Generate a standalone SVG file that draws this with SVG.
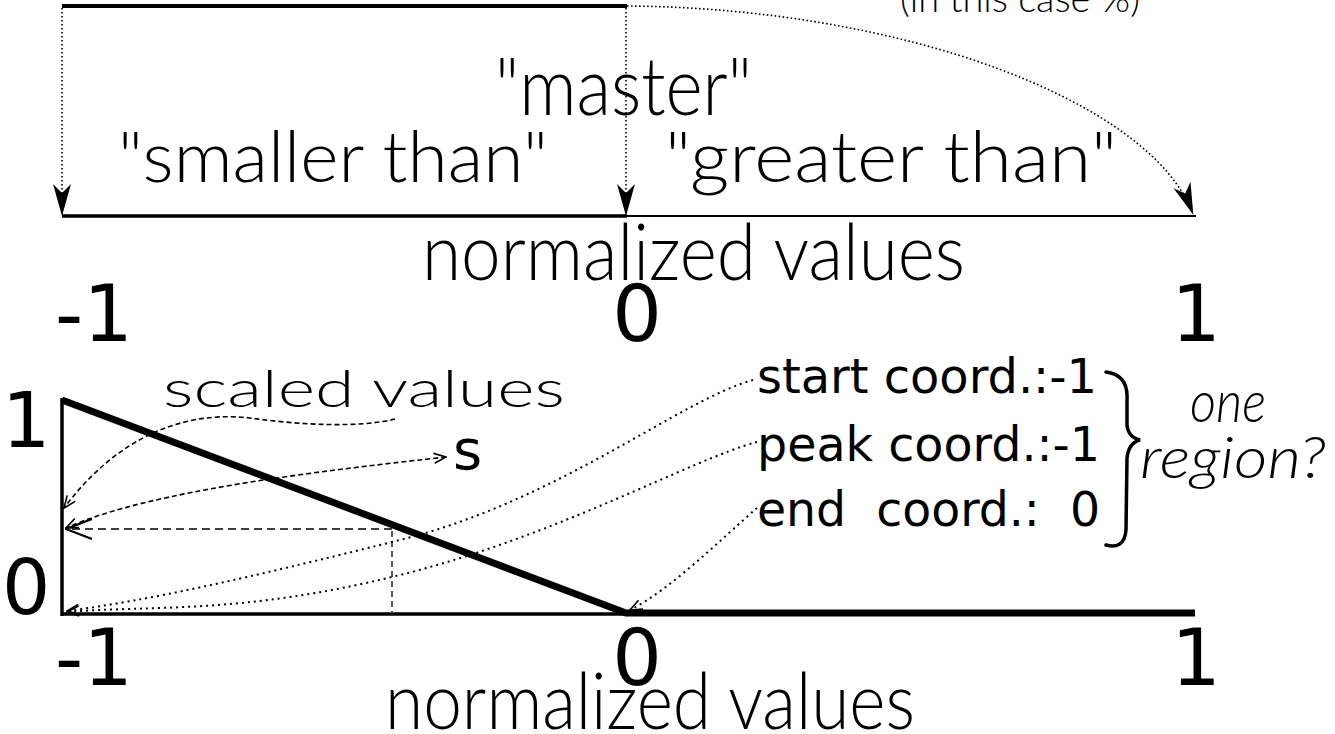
<svg xmlns="http://www.w3.org/2000/svg" width="1335" height="734" viewBox="0 0 1335 734">
<style>
.hand{font-family:"Lato","Open Sans",sans-serif;font-weight:300;fill:#000}
.num{font-family:"DejaVu Sans",sans-serif;fill:#000}
.axis{stroke:#000;fill:none;stroke-linecap:butt}
.dot{stroke:#000;fill:none;stroke-width:1.6;stroke-dasharray:1.6 2.4}
.dot2{stroke:#000;fill:none;stroke-width:2;stroke-dasharray:2 4}
.dash{stroke:#000;fill:none;stroke-width:1.6;stroke-dasharray:5 3}
.dash2{stroke:#000;fill:none;stroke-width:1.6;stroke-dasharray:8 5}
.dash3{stroke:#000;fill:none;stroke-width:1.3;stroke-dasharray:6 4}
</style>
<defs>
<marker id="af" viewBox="0 0 32 20" refX="31" refY="10" markerWidth="32" markerHeight="20" markerUnits="userSpaceOnUse" orient="auto">
<path d="M0,1 L32,10 L0,19 L9,10 Z" fill="#000"/>
</marker>
<marker id="ao" viewBox="0 0 14 12" refX="13" refY="6" markerWidth="14" markerHeight="12" markerUnits="userSpaceOnUse" orient="auto-start-reverse">
<path d="M1,1 L13,6 L1,11" fill="none" stroke="#000" stroke-width="1.6"/>
</marker>
<marker id="ab" viewBox="0 0 28 22" refX="27" refY="11" markerWidth="28" markerHeight="22" markerUnits="userSpaceOnUse" orient="auto">
<path d="M1,1 L27,11 L1,21" fill="none" stroke="#000" stroke-width="2.2"/>
</marker>
</defs>

<g id="top-scale">
<line class="axis" x1="62" y1="6" x2="627" y2="6" stroke-width="4"/>
<line class="axis" x1="62" y1="216" x2="627" y2="216" stroke-width="3.5"/>
<line class="axis" x1="626" y1="216" x2="1196" y2="216" stroke-width="2.2"/>
</g>

<g id="top-labels">
<text class="hand" x="900" y="12" font-size="38" textLength="240" lengthAdjust="spacingAndGlyphs">(in this case %)</text>
<text class="hand" x="495" y="115" font-size="80" textLength="257" lengthAdjust="spacingAndGlyphs">"master"</text>
<text class="hand" x="118" y="182" font-size="70" textLength="430" lengthAdjust="spacingAndGlyphs">"smaller than"</text>
<text class="hand" x="665" y="182" font-size="70" textLength="452" lengthAdjust="spacingAndGlyphs">"greater than"</text>
<text class="hand" x="422" y="280" font-size="78" textLength="543" lengthAdjust="spacingAndGlyphs">normalized values</text>
<text class="num" x="55" y="341" font-size="78">-1</text>
<text class="num" x="637" y="341" font-size="78" text-anchor="middle">0</text>
<text class="num" x="1196" y="341" font-size="78" text-anchor="middle">1</text>
</g>

<g id="graph">
<line class="axis" x1="62" y1="398" x2="62" y2="616" stroke-width="3.5"/>
<line class="axis" x1="62" y1="614" x2="627" y2="614" stroke-width="3.5"/>
<polyline points="62,400 626,613 1195,613" fill="none" stroke="#000" stroke-width="7" stroke-linejoin="miter"/>
<text class="num" x="2" y="447" font-size="76">1</text>
<text class="num" x="2" y="614" font-size="76">0</text>
<text class="num" x="637" y="685" font-size="78" text-anchor="middle">0</text>
<text class="num" x="55" y="685" font-size="78">-1</text>
<text class="num" x="1196" y="685" font-size="78" text-anchor="middle">1</text>
<text class="hand" x="385" y="729" font-size="78" textLength="530" lengthAdjust="spacingAndGlyphs">normalized values</text>
<text class="hand" x="163" y="407" font-size="52" textLength="402" lengthAdjust="spacingAndGlyphs">scaled values</text>
<text class="num" x="453" y="469" font-size="56">s</text>
</g>

<g id="region-box">
<text class="num" x="757" y="393" font-size="48" textLength="340" lengthAdjust="spacingAndGlyphs">start coord.:-1</text>
<text class="num" x="757" y="461" font-size="48" textLength="343" lengthAdjust="spacingAndGlyphs">peak coord.:-1</text>
<text class="num" x="757" y="526" font-size="48" textLength="343" lengthAdjust="spacingAndGlyphs" xml:space="preserve">end  coord.:  0</text>
<path d="M1106,372 C1122,374 1128,384 1127,400 L1127,425 C1128,434 1132,438 1140,440 C1132,442 1128,448 1127,458 L1126,530 C1125,545 1116,548 1106,545" fill="none" stroke="#000" stroke-width="3.5" stroke-linecap="round"/>
<text class="hand" x="1190" y="422" font-size="58" font-style="italic" textLength="76" lengthAdjust="spacingAndGlyphs">one</text>
<text class="hand" x="1140" y="478" font-size="58" font-style="italic" textLength="186" lengthAdjust="spacingAndGlyphs">region?</text>
</g>

<g id="connectors">
<line class="dot" x1="62" y1="8" x2="62" y2="215" marker-end="url(#af)"/>
<line class="dot" x1="626" y1="8" x2="626" y2="215" marker-end="url(#af)"/>
<path class="dot" d="M627,6 C900,8 1150,100 1193,214" marker-end="url(#af)"/>
<path class="dash" d="M395,419 C360,428 300,425 250,418 C180,410 115,440 64,508" marker-end="url(#ao)"/>
<path class="dash" d="M446,457 C330,470 150,490 66,528" marker-start="url(#ao)" marker-end="url(#ao)"/>
<line class="dash2" x1="392" y1="529" x2="66" y2="529" marker-end="url(#ab)"/>
<line class="dash3" x1="392" y1="531" x2="392" y2="612"/>
<path class="dot2" d="M753,380 C680,400 560,500 400,540 S150,600 67,611" marker-end="url(#ao)"/>
<path class="dot2" d="M757,442 C690,460 560,535 400,575 S150,605 67,612" marker-end="url(#ao)"/>
<path class="dot2" d="M757,508 C720,540 670,590 630,610" marker-end="url(#ao)"/>
</g>
</svg>
